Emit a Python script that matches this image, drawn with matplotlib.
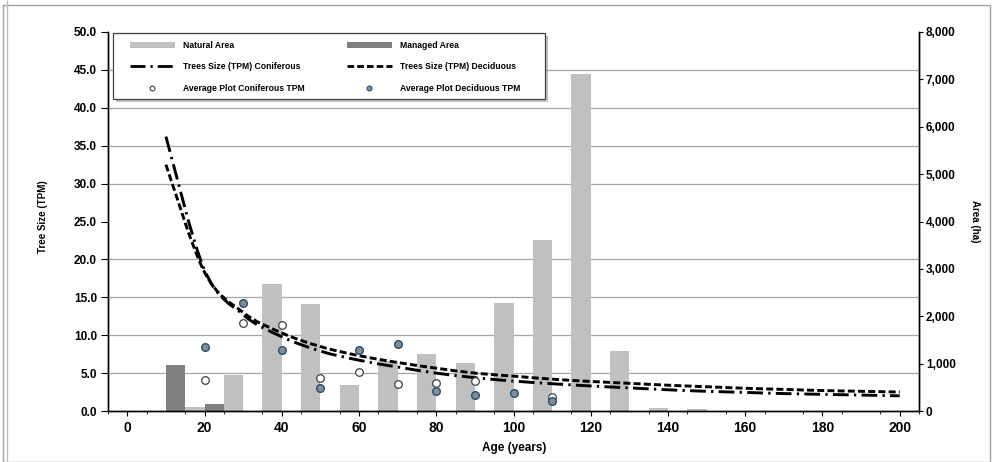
import numpy as np
import matplotlib
matplotlib.use("Agg")
import matplotlib.pyplot as plt
from matplotlib.path import Path
from matplotlib.patches import PathPatch, Patch, Rectangle
from matplotlib.lines import Line2D
from matplotlib.ticker import FuncFormatter

plt.rcParams["font.family"] = ["Liberation Sans", "DejaVu Sans"]
plt.rcParams["font.weight"] = "bold"

# ── 数据 ─────────────────────────────────────────────
ages = [0, 10, 20, 30, 40, 50, 60, 70, 80, 90, 100,
        110, 120, 130, 140, 150, 160, 170, 180, 190, 200]
natural_area = [0, 0, 90, 770, 2690, 2255, 540, 1060, 1200, 1005, 2290,
                3600, 7120, 1270, 60, 45, 0, 0, 0, 0, 0]
managed_area = [0, 965, 140, 0, 0, 0, 0, 0, 0, 0, 0,
                0, 0, 0, 0, 0, 0, 0, 0, 0, 0]

line_ages = [10, 20, 30, 40, 50, 60, 70, 80, 90, 100,
             110, 120, 130, 140, 150, 160, 170, 180, 190, 200]
tpm_coniferous = [36.2, 18.6, 12.7, 9.8, 7.9, 6.7, 5.8, 5.0, 4.4, 3.95,
                  3.6, 3.3, 3.05, 2.8, 2.6, 2.45, 2.3, 2.2, 2.1, 2.0]
tpm_deciduous = [32.5, 18.3, 13.0, 10.3, 8.5, 7.3, 6.4, 5.65, 5.0, 4.6,
                 4.2, 3.9, 3.65, 3.4, 3.2, 3.0, 2.85, 2.7, 2.6, 2.5]

plot_ages = [20, 30, 40, 50, 60, 70, 80, 90, 100, 110]
plot_coniferous = [4.05, 11.65, 11.35, 4.35, 5.1, 3.6, 3.7, 3.9, np.nan, 1.8]
plot_deciduous = [8.4, 14.2, 8.1, 3.1, 8.0, 8.9, 2.6, 2.1, 2.4, 1.3]

C_NAT = "#c0c0c0"
C_MAN = "#808080"
DASH_CON = (0, (5.4, 1.8, 0.8, 1.8))
DASH_DEC = (0, (2.4, 1.1))
W, H = 998, 462


def smooth_path(xs, ys):
    """Excel 风格的平滑线 (Catmull-Rom → Bezier)。"""
    p = np.column_stack([xs, ys]).astype(float)
    pts = np.vstack([p[0], p, p[-1]])
    verts = [p[0]]
    codes = [Path.MOVETO]
    for i in range(1, len(pts) - 2):
        c1 = pts[i] + (pts[i + 1] - pts[i - 1]) / 6
        c2 = pts[i + 1] - (pts[i + 2] - pts[i]) / 6
        verts += [c1, c2, pts[i + 1]]
        codes += [Path.CURVE4] * 3
    return Path(verts, codes)


fig = plt.figure(figsize=(W / 100, H / 100), dpi=100)
ax2 = fig.add_axes([108 / W, 1 - 411 / H, 811 / W, 379 / H])
ax = ax2.twinx()
ax.yaxis.tick_left()
ax.yaxis.set_label_position("left")
ax2.yaxis.tick_right()
ax.set_zorder(ax2.get_zorder() + 1)
ax.patch.set_visible(False)

# ── 面积柱状图 (右轴) ──
x = np.array(ages, dtype=float)
ax2.bar(x - 2.5, natural_area, 5, color=C_NAT, linewidth=0)
ax2.bar(x + 2.5, managed_area, 5, color=C_MAN, linewidth=0)
ax2.set_ylim(0, 8000)
ax2.set_yticks(np.arange(0, 8001, 1000))
ax2.set_yticks(np.arange(0, 8001, 800), minor=True)  # 网格线对应左轴 5.0 间隔
ax2.yaxis.set_major_formatter(FuncFormatter(lambda v, _: f"{v:,.0f}"))
ax2.grid(True, axis="y", which="minor", color="#a6a6a6", linewidth=0.9)
ax2.grid(False, axis="y", which="major")
ax2.set_axisbelow(True)

# ── 趋势线 + 样地点 (左轴) ──
ax.add_patch(PathPatch(smooth_path(line_ages, tpm_coniferous), fill=False,
                       edgecolor="black", linewidth=2.1, linestyle=DASH_CON,
                       capstyle="butt"))
ax.add_patch(PathPatch(smooth_path(line_ages, tpm_deciduous), fill=False,
                       edgecolor="black", linewidth=2.1, linestyle=DASH_DEC,
                       capstyle="butt"))
ax.plot(plot_ages, plot_coniferous, "o", ms=5.5, mfc="white", mec="#404040",
        mew=0.9, linestyle="none")
ax.plot(plot_ages, plot_deciduous, "o", ms=5.5, mfc="#8c8c8c", mec="#1f4e79",
        mew=1.0, linestyle="none")
ax.set_ylim(0, 50)
ax.set_yticks(np.arange(0, 50.1, 5))
ax.yaxis.set_major_formatter(FuncFormatter(lambda v, _: f"{v:.1f}"))

ax.set_xlim(-5, 205)
ax.set_xticks(np.arange(0, 201, 20))
ax.set_xticks(np.arange(-5, 206, 10), minor=True)
ax.tick_params(axis="x", which="major", length=0, pad=9, labelsize=8.5)
ax.tick_params(axis="x", which="minor", length=4, width=0.8, direction="out")
ax.tick_params(axis="y", length=5, width=0.8, pad=3, labelsize=8.5)
ax2.tick_params(axis="y", which="major", length=3, width=0.8, pad=2,
                labelsize=8.5)
ax2.tick_params(axis="y", which="minor", length=0)

for a in (ax, ax2):
    a.spines["top"].set_visible(False)
    a.spines["left"].set_linewidth(1.0)
    a.spines["right"].set_linewidth(1.0)
    a.spines["bottom"].set_linewidth(1.0)

fig.text(43 / W, 1 - 217 / H, "Tree Size (TPM)", rotation=90,
         ha="center", va="center", fontsize=7, fontweight="bold")
fig.text(975 / W, 1 - 221 / H, "Area (ha)", rotation=-90,
         ha="center", va="center", fontsize=7, fontweight="bold")
fig.text(514 / W, 1 - 448 / H, "Age (years)",
         ha="center", va="center", fontsize=8.5, fontweight="bold")

# ── 图例 (手动边框 + 阴影) ──
ax.add_patch(Rectangle((116 / W, 1 - 102 / H), 432 / W, 66 / H,
                       transform=fig.transFigure, facecolor="#9a9a9a",
                       edgecolor="none", alpha=0.6, zorder=9, clip_on=False))
ax.add_patch(Rectangle((113 / W, 1 - 99 / H), 432 / W, 66 / H,
                       transform=fig.transFigure, facecolor="white",
                       edgecolor="#404040", linewidth=0.9, zorder=10,
                       clip_on=False))

handles = [
    Patch(facecolor=C_NAT, edgecolor="none"),
    Line2D([], [], color="black", lw=2.0, linestyle=DASH_CON),
    Line2D([], [], marker="o", ms=3.5, mfc="white", mec="#404040",
           mew=0.8, linestyle="none"),
    Patch(facecolor=C_MAN, edgecolor="none"),
    Line2D([], [], color="black", lw=2.0, linestyle=DASH_DEC),
    Line2D([], [], marker="o", ms=3.5, mfc="#8c8c8c", mec="#1f4e79",
           mew=0.8, linestyle="none"),
]
labels = ["Natural Area", "Trees Size (TPM) Coniferous",
          "Average Plot Coniferous TPM", "Managed Area",
          "Trees Size (TPM) Deciduous", "Average Plot Deciduous TPM"]
leg = ax.legend(handles, labels, ncol=2, loc="upper left",
                bbox_to_anchor=(130 / W, 1 - 41 / H, 390 / W, 0.0),
                bbox_transform=fig.transFigure, mode="expand",
                prop={"size": 6.2, "weight": "bold"}, frameon=False,
                handlelength=5.2, handleheight=0.7, labelspacing=1.45,
                borderpad=0.0, borderaxespad=0.0, columnspacing=1.0,
                handletextpad=0.9)
leg.set_zorder(11)

# 外框
fig.patches.append(Rectangle((3 / W, 0.0), 987 / W, 1 - 5 / H,
                             transform=fig.transFigure, fill=False,
                             edgecolor="#a0a0a0", linewidth=1.0))
fig.patches.append(Rectangle((7 / W, 0.0), 0.0, 1.0,
                             transform=fig.transFigure, fill=False,
                             edgecolor="#c0c0c0", linewidth=1.0))

fig.savefig("out.png", dpi=100)
